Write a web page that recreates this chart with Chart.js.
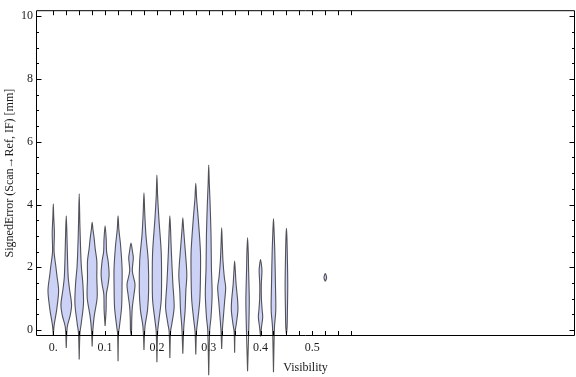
<!DOCTYPE html>
<html><head><meta charset="utf-8">
<script src="https://cdn.jsdelivr.net/npm/chart.js@4/dist/chart.umd.min.js"></script>
<style>html,body{margin:0;padding:0;background:#fff}</style>
</head><body>
<canvas id="c" width="576" height="377" style="display:block;width:576px;height:377px"></canvas>
<script>
// ---- data ----
const visibility = [0, 0.025, 0.05, 0.075, 0.1, 0.125, 0.15, 0.175, 0.2, 0.225, 0.25, 0.275, 0.3, 0.325, 0.35, 0.375, 0.4, 0.425, 0.45, 0.525];
const errMin = [-0.16, -0.57, -0.94, -0.52, 0.13, -0.99, -0.15, -0.63, -1.02, -0.89, -0.75, -0.78, -1.44, -0.6, -0.72, -1.31, -0.2, -1.34, -0.12, 1.55];
const errMax = [4.02, 3.64, 4.34, 3.43, 3.32, 3.64, 2.77, 4.37, 4.94, 3.64, 3.58, 4.68, 5.26, 3.26, 2.2, 2.95, 2.25, 3.55, 3.24, 1.80];
// density profile knots per violin: [signed error, relative density]
const densities = [
  [[0.15,0.15],[0.63,0.6],[1.25,0.97],[1.75,0.65],[2.05,0.45],[2.5,0.14],[3.1,0.2],[3.6,0.08]],
  [[0.1,0.18],[0.45,0.7],[0.8,0.97],[1.3,0.6],[1.7,0.35],[2.5,0.2],[3.2,0.1]],
  [[-0.1,0.13],[0.2,0.36],[0.84,0.78],[1.46,0.67],[2.0,0.4],[2.5,0.27],[3.4,0.12]],
  [[0.0,0.13],[0.42,0.36],[1.04,0.91],[1.67,0.85],[2.2,0.85],[2.6,0.55],[2.93,0.36],[3.2,0.15]],
  [[0.63,0.18],[1.15,0.24],[1.46,0.55],[1.78,0.73],[2.2,0.55],[2.5,0.27],[2.9,0.2]],
  [[-0.1,0.09],[0.1,0.24],[0.73,0.64],[1.46,0.73],[1.98,0.73],[2.72,0.45],[3.2,0.15]],
  [[0.0,0.1],[0.31,0.13],[0.73,0.24],[1.15,0.55],[1.46,0.73],[1.88,0.24],[2.3,0.42],[2.5,0.27]],
  [[0.1,0.18],[0.63,0.64],[1.25,0.85],[2.2,0.78],[3.03,0.36],[3.7,0.15]],
  [[-0.05,0.13],[0.31,0.36],[0.94,0.78],[1.67,0.85],[2.5,0.78],[3.55,0.36],[4.3,0.12]],
  [[-0.05,0.13],[0.2,0.36],[0.73,0.78],[1.46,0.55],[2.5,0.27],[3.1,0.15]],
  [[0.1,0.18],[0.63,0.42],[1.25,0.55],[1.78,0.73],[2.72,0.36],[3.2,0.15]],
  [[-0.05,0.13],[0.31,0.36],[0.94,0.73],[1.67,0.85],[2.5,0.85],[3.55,0.45],[4.2,0.15]],
  [[0.0,0.18],[0.42,0.42],[1.15,0.62],[1.98,0.49],[3.03,0.42],[4.08,0.24],[4.7,0.1]],
  [[0.0,0.13],[0.42,0.31],[0.94,0.55],[1.36,0.73],[1.67,0.49],[2.2,0.24],[2.8,0.1]],
  [[-0.05,0.09],[0.2,0.31],[0.63,0.6],[0.94,0.55],[1.46,0.27],[1.9,0.12]],
  [[0.2,0.24],[0.94,0.31],[1.98,0.18],[2.5,0.12]],
  [[0.1,0.18],[0.42,0.4],[0.63,0.3],[1.0,0.16],[1.46,0.14],[1.9,0.26],[2.1,0.15]],
  [[0.1,0.18],[0.63,0.42],[1.46,0.36],[2.5,0.24],[3.1,0.12]],
  [[0.1,0.12],[0.63,0.18],[1.46,0.24],[2.5,0.15],[3.0,0.08]],
  [[1.67,0.24]]
];
const xTickValues = [0,0.025,0.05,0.075,0.1,0.125,0.15,0.175,0.2,0.225,0.25,0.275,0.3,0.325,0.35,0.375,0.4,0.425,0.45,0.475,0.5,0.525,0.55,0.575];
const xTickLabels = {"0":"0.","0.1":"0.1","0.2":"0.2","0.3":"0.3","0.4":"0.4","0.5":"0.5"};
const yMajorTicks = [0,2,4,6,8,10];
const yMinorTicks = [0.5,1,1.5,2.5,3,3.5,4.5,5,5.5,6.5,7,7.5,8.5,9,9.5];

// ---- styling / geometry ----
const maxHalfWidth = 0.0106;
const FONT = "'Liberation Serif', 'Times New Roman', serif";

const datasets = visibility.map((v, i) => {
  const prof = densities[i];
  const pts = [{x: v, y: errMin[i]}];
  prof.forEach(([e, d]) => pts.push({x: v - d * maxHalfWidth, y: e}));
  pts.push({x: v, y: errMax[i]});
  for (let k = prof.length - 1; k >= 0; k--) pts.push({x: v + prof[k][1] * maxHalfWidth, y: prof[k][0]});
  pts.push({x: v, y: errMin[i]});
  return {
    data: pts, showLine: true, fill: 'shape', clip: false,
    backgroundColor: 'rgb(204,210,246)', borderColor: 'rgba(55,55,60,0.85)',
    borderWidth: 1.1, tension: 0.3, pointRadius: 0, pointHoverRadius: 0,
    borderJoinStyle: 'round'
  };
});

const framePlugin = {
  id: 'frame',
  afterDatasetsDraw(chart) {
    const {ctx, chartArea: a, scales: {x, y}} = chart;
    ctx.save();
    ctx.strokeStyle = '#000'; ctx.lineWidth = 1;
    const L = a.left + 0.5, R = a.right - 0.5, T = a.top + 0.5, B = a.bottom - 0.5;
    ctx.beginPath();
    ctx.moveTo(L, T); ctx.lineTo(R, T); ctx.lineTo(R, B); ctx.lineTo(L, B); ctx.closePath();
    const seg = (x1, y1, x2, y2) => { ctx.moveTo(x1, y1); ctx.lineTo(x2, y2); };
    xTickValues.forEach(v => {
      const px = Math.round(x.getPixelForValue(v)) + 0.5;
      seg(px, B, px, B - 4.5); seg(px, T, px, T + 4.5);
    });
    yMajorTicks.forEach(v => {
      const py = Math.round(y.getPixelForValue(v)) + 0.5;
      seg(L, py, L + 5, py); seg(R, py, R - 5, py);
    });
    yMinorTicks.forEach(v => {
      const py = Math.round(y.getPixelForValue(v)) + 0.5;
      seg(L, py, L + 2.5, py); seg(R, py, R - 2.5, py);
    });
    ctx.stroke();
    ctx.restore();
  }
};

new Chart(document.getElementById('c'), {
  type: 'scatter',
  data: {datasets},
  plugins: [framePlugin],
  options: {
    responsive: false, animation: false, devicePixelRatio: 1,
    layout: {padding: {top: 5, right: 1, left: 0, bottom: 0}},
    plugins: {legend: {display: false}, tooltip: {enabled: false}},
    elements: {line: {capBezierPoints: false}},
    scales: {
      x: {
        type: 'linear', min: -0.0334, max: 1.007,
        afterBuildTicks: s => { s.ticks = xTickValues.map(v => ({value: v})); },
        afterFit: s => { s.height = 41; },
        grid: {display: false, drawTicks: false}, border: {display: false},
        ticks: {
          autoSkip: false, maxRotation: 0, padding: 5, color: '#1a1a1a',
          font: {family: FONT, size: 12},
          callback: v => { const k = String(Math.round(v * 1000) / 1000); return xTickLabels[k] !== undefined ? xTickLabels[k] : ''; }
        },
        title: {display: true, text: 'Visibility', color: '#1a1a1a', font: {family: FONT, size: 12}, padding: {top: 0, bottom: 2}}
      },
      y: {
        type: 'linear', min: -0.188, max: 10.19,
        afterBuildTicks: s => { s.ticks = yMajorTicks.map(v => ({value: v})); },
        afterFit: s => { s.width = 36; },
        grid: {display: false, drawTicks: false}, border: {display: false},
        ticks: {padding: 3, color: '#1a1a1a', font: {family: FONT, size: 12}},
        title: {display: true, text: 'SignedError (Scan\u2192Ref, IF) [mm]', color: '#1a1a1a', font: {family: FONT, size: 12}, padding: {top: 3, bottom: 0}}
      }
    }
  }
});
</script>
</body></html>
